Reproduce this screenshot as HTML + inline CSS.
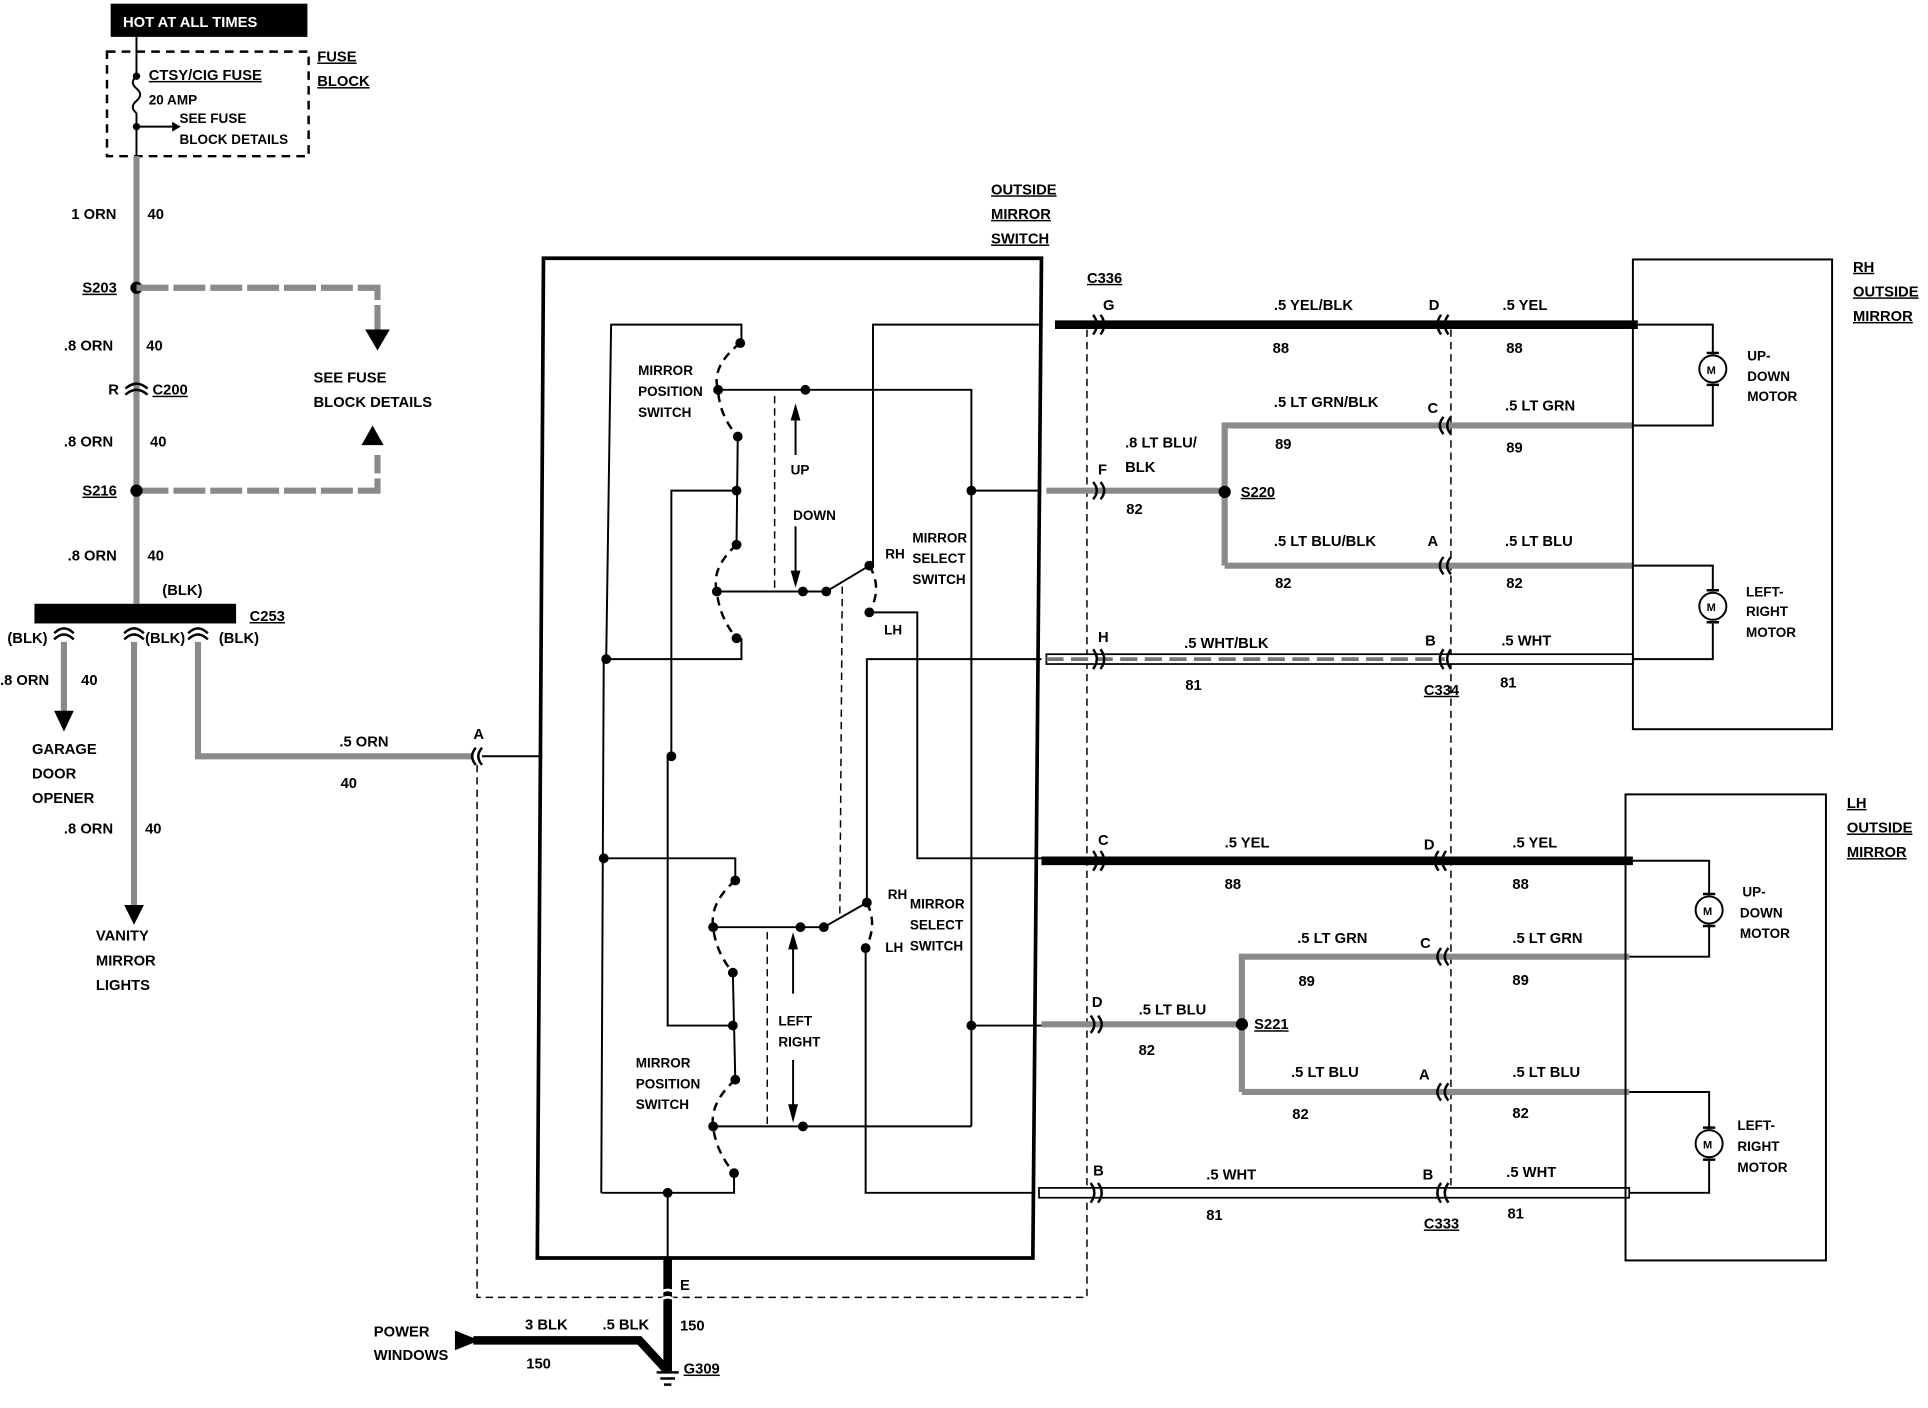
<!DOCTYPE html>
<html><head><meta charset="utf-8"><style>
html,body{margin:0;padding:0;background:#fff;}
svg{display:block;}
text{font-family:"Liberation Sans",sans-serif;font-weight:bold;font-size:12px;fill:#000;}
.u{text-decoration:underline;}
.k{stroke:#000;fill:none;stroke-width:1.6;}
.kt{stroke:#000;fill:none;stroke-width:7;}
.g{stroke:#8a8a8a;fill:none;stroke-width:5;}
.gd{stroke:#8a8a8a;fill:none;stroke-width:5;stroke-dasharray:26 4;}
.d{stroke:#000;fill:none;stroke-width:1.2;stroke-dasharray:6 4;}
.dd{stroke:#000;fill:none;stroke-width:2;stroke-dasharray:7 5;}
.c{stroke:#000;fill:none;stroke-width:2;}
</style></head><body>
<svg width="1928" height="1408" viewBox="0 0 1568 1145" preserveAspectRatio="none" xmlns="http://www.w3.org/2000/svg">
<rect x="0" y="0" width="1568" height="1145" fill="#fff"/>

<!-- LEFT: power feed -->
<rect x="90" y="3" width="160" height="27" fill="#000"/>
<text x="100" y="22" style="fill:#fff">HOT AT ALL TIMES</text>
<rect x="87" y="42" width="164" height="85" class="dd"/>
<text x="258" y="50" class="u">FUSE</text><text x="258" y="70" class="u">BLOCK</text>
<line x1="111" y1="30" x2="111" y2="60" class="k"/>
<circle cx="111" cy="62" r="3"/>
<path d="M111 62 q-6 5 0 10 q6 5 0 10 q-6 5 0 10" class="k"/>
<line x1="111" y1="92" x2="111" y2="127" class="k"/>
<circle cx="111" cy="103" r="3"/>
<line x1="111" y1="103" x2="140" y2="103" class="k"/><path d="M140 99 L147 103 L140 107z"/>
<text x="121" y="65" class="u">CTSY/CIG FUSE</text>
<text x="121" y="85" style="font-size:11px">20 AMP</text>
<text x="146" y="100" style="font-size:11px">SEE FUSE</text>
<text x="146" y="117" style="font-size:11px">BLOCK DETAILS</text>

<line x1="111" y1="127" x2="111" y2="491" class="g"/>
<text x="58" y="178">1 ORN</text><text x="120" y="178">40</text>
<circle cx="111" cy="234" r="5"/>
<text x="67" y="238" class="u">S203</text>
<path d="M111 234 H307 V268" class="gd"/>
<path d="M297 268 L307 285 L317 268z"/>
<text x="52" y="285">.8 ORN</text><text x="119" y="285">40</text>
<text x="88" y="321">R</text>
<path d="M102 316 Q111 308 120 316 M102 321 Q111 313 120 321" class="c"/>
<text x="124" y="321" class="u">C200</text>
<text x="52" y="363">.8 ORN</text><text x="122" y="363">40</text>
<text x="255" y="311">SEE FUSE</text><text x="255" y="331">BLOCK DETAILS</text>
<path d="M294 362 L303 346 L312 362z"/>
<path d="M111 399 H307 V370" class="gd"/>
<circle cx="111" cy="399" r="5"/>
<text x="67" y="403" class="u">S216</text>
<text x="55" y="456">.8 ORN</text><text x="120" y="456">40</text>

<rect x="28" y="491" width="164" height="16" fill="#000"/>
<text x="132" y="484">(BLK)</text>
<text x="203" y="505" class="u">C253</text>
<path d="M44 515 Q52 507 60 515 M44 520 Q52 512 60 520" class="c"/>
<path d="M101 515 Q109 507 117 515 M101 520 Q109 512 117 520" class="c"/>
<path d="M153 515 Q161 507 169 515 M153 520 Q161 512 169 520" class="c"/>
<text x="6" y="523">(BLK)</text><text x="118" y="523">(BLK)</text><text x="178" y="523">(BLK)</text>
<line x1="52" y1="522" x2="52" y2="580" class="g"/><path d="M44 578 L52 595 L60 578z"/>
<text x="0" y="557">.8 ORN</text><text x="66" y="557">40</text>
<text x="26" y="613">GARAGE</text><text x="26" y="633">DOOR</text><text x="26" y="653">OPENER</text>
<line x1="109" y1="522" x2="109" y2="738" class="g"/><path d="M101 736 L109 752 L117 736z"/>
<text x="52" y="678">.8 ORN</text><text x="118" y="678">40</text>
<text x="78" y="765">VANITY</text><text x="78" y="785">MIRROR</text><text x="78" y="805">LIGHTS</text>
<path d="M161 522 V615 H385" class="g"/>
<text x="276" y="607">.5 ORN</text><text x="277" y="641">40</text><text x="385" y="601">A</text>
<path d="M387 608 Q381 615 387 622 M392 608 Q386 615 392 622" class="c"/>
<line x1="392" y1="615" x2="441" y2="615" class="k"/>
<!-- dashed loop -->
<path d="M388 622 V1055 H884 V268" class="d"/>
<line x1="1180" y1="268" x2="1180" y2="975" class="d"/>

<!-- SWITCH BOX -->
<text x="806" y="158" class="u">OUTSIDE</text><text x="806" y="178" class="u">MIRROR</text><text x="806" y="198" class="u">SWITCH</text>
<path d="M442 210 L847 210 L840 1023 L437 1023 Z" style="stroke:#000;fill:none;stroke-width:3"/>

<!-- upper position switch -->
<path d="M603 279 V264 H497 L493 536 H603 V519" class="k"/>
<path d="M602 279 Q578 298 584 317 Q585 338 600 355" class="dd"/>
<path d="M599 443 Q578 462 583 481 Q585 502 599 519" class="dd"/>
<line x1="600" y1="355" x2="599" y2="443" class="k"/>
<path d="M546 615 V399 H599" class="k"/>
<path d="M584 317 H790 V916" class="k"/>
<line x1="790" y1="399" x2="847" y2="399" class="k"/>
<line x1="630" y1="322" x2="630" y2="481" class="d"/>
<line x1="647" y1="340" x2="647" y2="370" class="k"/><path d="M643 342 L647 328 L651 342z"/>
<line x1="647" y1="428" x2="647" y2="466" class="k"/><path d="M643 464 L647 478 L651 464z"/>
<text x="519" y="305" style="font-size:11px">MIRROR</text><text x="519" y="322" style="font-size:11px">POSITION</text><text x="519" y="339" style="font-size:11px">SWITCH</text>
<text x="643" y="386" style="font-size:11px">UP</text><text x="645" y="423" style="font-size:11px">DOWN</text>
<path d="M583 481 H672 L707 460" class="k"/>
<path d="M707 460 Q718 478 707 498" class="dd"/>
<path d="M707 498 H746 V698 H847" class="k"/>
<path d="M707 460 H710 V264 H847" class="k"/>
<line x1="685" y1="477" x2="683" y2="746" class="d"/>
<text x="720" y="454" style="font-size:11px">RH</text><text x="719" y="516" style="font-size:11px">LH</text>
<text x="742" y="441" style="font-size:11px">MIRROR</text><text x="742" y="458" style="font-size:11px">SELECT</text><text x="742" y="475" style="font-size:11px">SWITCH</text>
<path d="M705 734 V536 H847" class="k"/>
<line x1="491" y1="536" x2="489" y2="970" class="k"/>

<!-- lower position switch -->
<path d="M491 698 H598 V716" class="k"/>
<path d="M598 716 Q577 734 580 754 Q582 774 596 791" class="dd"/>
<line x1="596" y1="791" x2="598" y2="878" class="k"/>
<path d="M598 878 Q577 897 580 916 Q582 936 597 954" class="dd"/>
<path d="M543 615 V834 H596" class="k"/>
<path d="M489 970 H597 V954" class="k"/>
<path d="M580 754 H670 L705 734" class="k"/>
<path d="M705 734 Q714 752 704 771" class="dd"/>
<path d="M704 771 V970 H840" class="k"/>
<path d="M580 916 H790" class="k"/>
<line x1="790" y1="834" x2="847" y2="834" class="k"/>
<line x1="624" y1="758" x2="624" y2="916" class="d"/>
<line x1="645" y1="770" x2="645" y2="808" class="k"/><path d="M641 772 L645 758 L649 772z"/>
<line x1="645" y1="862" x2="645" y2="900" class="k"/><path d="M641 898 L645 913 L649 898z"/>
<text x="517" y="868" style="font-size:11px">MIRROR</text><text x="517" y="885" style="font-size:11px">POSITION</text><text x="517" y="902" style="font-size:11px">SWITCH</text>
<text x="633" y="834" style="font-size:11px">LEFT</text><text x="633" y="851" style="font-size:11px">RIGHT</text>
<text x="722" y="731" style="font-size:11px">RH</text><text x="720" y="774" style="font-size:11px">LH</text>
<text x="740" y="739" style="font-size:11px">MIRROR</text><text x="740" y="756" style="font-size:11px">SELECT</text><text x="740" y="773" style="font-size:11px">SWITCH</text>

<!-- dots inside -->
<g>
<circle cx="602" cy="279" r="4"/><circle cx="584" cy="317" r="4"/><circle cx="600" cy="355" r="4"/><circle cx="599" cy="399" r="4"/><circle cx="599" cy="443" r="4"/><circle cx="583" cy="481" r="4"/><circle cx="599" cy="519" r="4"/>
<circle cx="655" cy="317" r="4"/><circle cx="790" cy="399" r="4"/><circle cx="653" cy="481" r="4"/><circle cx="672" cy="481" r="4"/><circle cx="707" cy="460" r="4"/><circle cx="707" cy="498" r="4"/><circle cx="493" cy="536" r="4"/><circle cx="546" cy="615" r="4"/>
<circle cx="491" cy="698" r="4"/><circle cx="598" cy="716" r="4"/><circle cx="580" cy="754" r="4"/><circle cx="596" cy="791" r="4"/><circle cx="596" cy="834" r="4"/><circle cx="598" cy="878" r="4"/><circle cx="580" cy="916" r="4"/><circle cx="597" cy="954" r="4"/>
<circle cx="651" cy="754" r="4"/><circle cx="670" cy="754" r="4"/><circle cx="705" cy="734" r="4"/><circle cx="704" cy="771" r="4"/><circle cx="653" cy="916" r="4"/><circle cx="790" cy="834" r="4"/><circle cx="543" cy="970" r="4"/>
</g>

<!-- bottom ground -->
<line x1="543" y1="970" x2="543" y2="1023" class="k"/>
<line x1="543" y1="1023" x2="543" y2="1115" class="kt"/>
<path d="M536 1052 Q543 1046 550 1052 M536 1058 Q543 1052 550 1058" style="stroke:#fff;stroke-width:2;fill:none"/>
<text x="553" y="1049">E</text>
<path d="M385 1090 H520 L543 1115" class="kt"/>
<path d="M370 1082 L390 1090 L370 1098z"/>
<path d="M534 1116 H552 M537 1121 H549 M540 1126 H546" class="c"/>
<text x="427" y="1081">3 BLK</text><text x="490" y="1081">.5 BLK</text><text x="553" y="1082">150</text><text x="428" y="1113">150</text>
<text x="304" y="1087">POWER</text><text x="304" y="1106">WINDOWS</text>
<text x="556" y="1117" class="u">G309</text>

<!-- RH wiring -->
<text x="884" y="230" class="u">C336</text>
<line x1="858" y1="264" x2="1332" y2="264" class="kt"/>
<text x="897" y="252">G</text><text x="1036" y="252">.5 YEL/BLK</text><text x="1162" y="252">D</text><text x="1222" y="252">.5 YEL</text>
<text x="1035" y="287">88</text><text x="1225" y="287">88</text>
<path d="M996 460 V346 H1328" class="g"/>
<text x="1036" y="331">.5 LT GRN/BLK</text><text x="1161" y="336">C</text><text x="1224" y="334">.5 LT GRN</text>
<text x="1037" y="365">89</text><text x="1225" y="368">89</text>
<path d="M851 399 H996" class="g"/>
<text x="893" y="386">F</text><text x="915" y="364">.8 LT BLU/</text><text x="915" y="384">BLK</text><text x="916" y="418">82</text>
<circle cx="996" cy="400" r="5"/><text x="1009" y="404" class="u">S220</text>
<path d="M996 460 H1328" class="g"/>
<text x="1036" y="444">.5 LT BLU/BLK</text><text x="1161" y="444">A</text><text x="1224" y="444">.5 LT BLU</text>
<text x="1037" y="478">82</text><text x="1225" y="478">82</text>
<rect x="851" y="532" width="477" height="8" fill="#fff" stroke="#000" stroke-width="1.4"/>
<line x1="851" y1="536" x2="1175" y2="536" style="stroke:#777;stroke-width:3;stroke-dasharray:14 6"/>
<text x="893" y="522">H</text><text x="963" y="527">.5 WHT/BLK</text><text x="1159" y="525">B</text><text x="1221" y="525">.5 WHT</text>
<text x="964" y="561">81</text><text x="1158" y="565" class="u">C334</text><text x="1220" y="559">81</text>
<!-- RH connectors -->
<g>
<path d="M889 256 Q895 264 889 272 M895 256 Q901 264 895 272" class="c"/>
<path d="M1172 256 Q1166 264 1172 272 M1178 256 Q1172 264 1178 272" class="c"/>
<path d="M1174 339 Q1168 346 1174 353 M1180 339 Q1174 346 1180 353" class="c"/>
<path d="M889 392 Q895 399 889 406 M895 392 Q901 399 895 406" class="c"/>
<path d="M1174 453 Q1168 460 1174 467 M1180 453 Q1174 460 1180 467" class="c"/>
<path d="M889 528 Q895 536 889 544 M895 528 Q901 536 895 544" class="c"/>
<path d="M1174 528 Q1168 536 1174 544 M1180 528 Q1174 536 1180 544" class="c"/>
</g>
<rect x="1328" y="211" width="162" height="382" class="k"/>
<text x="1507" y="221" class="u">RH</text><text x="1507" y="241" class="u">OUTSIDE</text><text x="1507" y="261" class="u">MIRROR</text>
<path d="M1332 264 H1393 V288 M1393 312 V346 H1328" class="k"/>
<circle cx="1393" cy="300" r="11" class="k"/><text x="1388" y="304" style="font-size:9px">M</text>
<path d="M1388 287 H1398 M1388 313 H1398" class="c"/>
<text x="1421" y="293" style="font-size:11px">UP-</text><text x="1421" y="310" style="font-size:11px">DOWN</text><text x="1421" y="326" style="font-size:11px">MOTOR</text>
<path d="M1328 460 H1393 V481 M1393 505 V536 H1328" class="k"/>
<circle cx="1393" cy="493" r="11" class="k"/><text x="1388" y="497" style="font-size:9px">M</text>
<path d="M1388 480 H1398 M1388 506 H1398" class="c"/>
<text x="1420" y="485" style="font-size:11px">LEFT-</text><text x="1420" y="501" style="font-size:11px">RIGHT</text><text x="1420" y="518" style="font-size:11px">MOTOR</text>

<!-- LH wiring -->
<line x1="847" y1="700" x2="1328" y2="700" class="kt"/>
<text x="893" y="687">C</text><text x="996" y="689">.5 YEL</text><text x="1158" y="691">D</text><text x="1230" y="689">.5 YEL</text>
<text x="996" y="723">88</text><text x="1230" y="723">88</text>
<path d="M1010 888 V778 H1325" class="g"/>
<text x="1055" y="767">.5 LT GRN</text><text x="1155" y="771">C</text><text x="1230" y="767">.5 LT GRN</text>
<text x="1056" y="802">89</text><text x="1230" y="801">89</text>
<path d="M847 833 H1010" class="g"/>
<text x="888" y="819">D</text><text x="926" y="825">.5 LT BLU</text><text x="926" y="858">82</text>
<circle cx="1010" cy="833" r="5"/><text x="1020" y="837" class="u">S221</text>
<path d="M1010 888 H1325" class="g"/>
<text x="1050" y="876">.5 LT BLU</text><text x="1154" y="878">A</text><text x="1230" y="876">.5 LT BLU</text>
<text x="1051" y="910">82</text><text x="1230" y="909">82</text>
<rect x="845" y="966" width="480" height="8" fill="#fff" stroke="#000" stroke-width="1.4"/>
<text x="889" y="956">B</text><text x="981" y="959">.5 WHT</text><text x="1157" y="959">B</text><text x="1225" y="957">.5 WHT</text>
<text x="981" y="992">81</text><text x="1158" y="999" class="u">C333</text><text x="1226" y="991">81</text>
<g>
<path d="M889 692 Q895 700 889 708 M895 692 Q901 700 895 708" class="c"/>
<path d="M1170 692 Q1164 700 1170 708 M1176 692 Q1170 700 1176 708" class="c"/>
<path d="M1172 771 Q1166 778 1172 785 M1178 771 Q1172 778 1178 785" class="c"/>
<path d="M887 826 Q893 833 887 840 M893 826 Q899 833 893 840" class="c"/>
<path d="M1172 881 Q1166 888 1172 895 M1178 881 Q1172 888 1178 895" class="c"/>
<path d="M887 962 Q893 970 887 978 M893 962 Q899 970 893 978" class="c"/>
<path d="M1172 962 Q1166 970 1172 978 M1178 962 Q1172 970 1178 978" class="c"/>
</g>
<rect x="1322" y="646" width="163" height="379" class="k"/>
<text x="1502" y="657" class="u">LH</text><text x="1502" y="677" class="u">OUTSIDE</text><text x="1502" y="697" class="u">MIRROR</text>
<path d="M1328 700 H1390 V728 M1390 752 V778 H1325" class="k"/>
<circle cx="1390" cy="740" r="11" class="k"/><text x="1385" y="744" style="font-size:9px">M</text>
<path d="M1385 727 H1395 M1385 753 H1395" class="c"/>
<text x="1417" y="729" style="font-size:11px">UP-</text><text x="1415" y="746" style="font-size:11px">DOWN</text><text x="1415" y="763" style="font-size:11px">MOTOR</text>
<path d="M1325 888 H1390 V918 M1390 942 V970 H1325" class="k"/>
<circle cx="1390" cy="930" r="11" class="k"/><text x="1385" y="934" style="font-size:9px">M</text>
<path d="M1385 917 H1395 M1385 943 H1395" class="c"/>
<text x="1413" y="919" style="font-size:11px">LEFT-</text><text x="1413" y="936" style="font-size:11px">RIGHT</text><text x="1413" y="953" style="font-size:11px">MOTOR</text>
</svg>
</body></html>
